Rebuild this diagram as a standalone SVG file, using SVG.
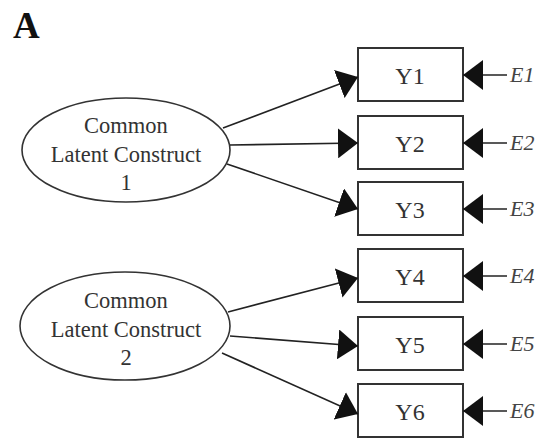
<svg xmlns="http://www.w3.org/2000/svg" width="541" height="439" viewBox="0 0 541 439">
<style>
.bg{fill:#fff}
.box{fill:#fff;stroke:#333;stroke-width:2}
.ell{fill:#fff;stroke:#333;stroke-width:1.6}
.lbl{font-family:"Liberation Serif","Times New Roman",serif;fill:#333;text-anchor:middle}
.yl{font-size:24px}
.el{font-size:22.5px}
.er{font-family:"Liberation Serif","Times New Roman",serif;font-style:italic;font-size:22px;fill:#444}
.cn{stroke:#222;stroke-width:1.6;fill:none;marker-end:url(#ah)}
.title{font-family:"Liberation Serif","Times New Roman",serif;font-weight:bold;font-size:37px;fill:#111}
</style>
<defs>
<marker id="ah" markerUnits="userSpaceOnUse" markerWidth="22" markerHeight="30" refX="20" refY="15" orient="auto" viewBox="0 0 22 30">
<path d="M0,0 L20,15 L0,30 Z" fill="#111"/>
</marker>
</defs>
<rect class="bg" x="0" y="0" width="541" height="439"/>
<text class="title" x="13" y="38">A</text>

<g id="lc1">
<ellipse class="ell" cx="126" cy="150" rx="104" ry="52"/>
<text class="lbl el" x="126" y="133">Common</text>
<text class="lbl el" x="126" y="162">Latent Construct</text>
<text class="lbl el" x="126" y="190">1</text>
</g>
<g id="lc2">
<ellipse class="ell" cx="125" cy="326" rx="105" ry="54"/>
<text class="lbl el" x="126" y="308">Common</text>
<text class="lbl el" x="126" y="337">Latent Construct</text>
<text class="lbl el" x="126" y="365">2</text>
</g>

<g id="y1"><rect class="box" x="358" y="48" width="105" height="53"/><text class="lbl yl" x="410" y="84">Y1</text></g>
<g id="y2"><rect class="box" x="358" y="116" width="105" height="53"/><text class="lbl yl" x="410" y="152">Y2</text></g>
<g id="y3"><rect class="box" x="358" y="182" width="105" height="53"/><text class="lbl yl" x="410" y="218">Y3</text></g>
<g id="y4"><rect class="box" x="358" y="249" width="105" height="53"/><text class="lbl yl" x="410" y="285">Y4</text></g>
<g id="y5"><rect class="box" x="358" y="317" width="105" height="53"/><text class="lbl yl" x="410" y="353">Y5</text></g>
<g id="y6"><rect class="box" x="358" y="384" width="105" height="53"/><text class="lbl yl" x="410" y="420">Y6</text></g>

<g id="e1"><text class="er" x="510" y="82">E1</text></g>
<g id="e2"><text class="er" x="510" y="150">E2</text></g>
<g id="e3"><text class="er" x="510" y="216">E3</text></g>
<g id="e4"><text class="er" x="510" y="283">E4</text></g>
<g id="e5"><text class="er" x="510" y="351">E5</text></g>
<g id="e6"><text class="er" x="510" y="418">E6</text></g>

<g id="connectors">
<line class="cn" x1="223" y1="128" x2="358" y2="77"/>
<line class="cn" x1="230" y1="145" x2="358" y2="143"/>
<line class="cn" x1="227" y1="164" x2="358" y2="209"/>
<line class="cn" x1="228" y1="312" x2="358" y2="278"/>
<line class="cn" x1="230" y1="336" x2="358" y2="346"/>
<line class="cn" x1="222" y1="353" x2="358" y2="414"/>
<line class="cn" x1="507" y1="75" x2="463" y2="75"/>
<line class="cn" x1="507" y1="143" x2="463" y2="143"/>
<line class="cn" x1="507" y1="209" x2="463" y2="209"/>
<line class="cn" x1="507" y1="276" x2="463" y2="276"/>
<line class="cn" x1="507" y1="344" x2="463" y2="344"/>
<line class="cn" x1="507" y1="411" x2="463" y2="411"/>
</g>
</svg>
